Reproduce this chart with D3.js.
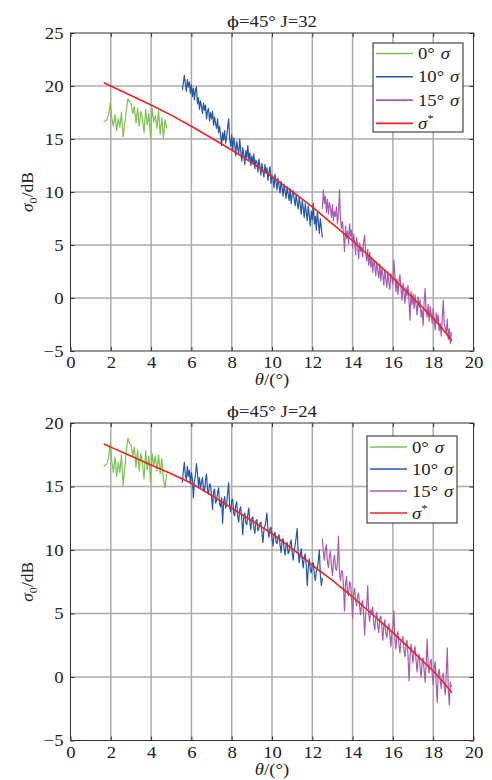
<!DOCTYPE html>
<html>
<head>
<meta charset="utf-8">
<script src="https://cdn.jsdelivr.net/npm/d3@7"></script>
<style>
  body { margin: 0; background: #fff; }
  svg { display: block; }
  text { font-family: "Liberation Serif", "Times New Roman", serif; fill: #222; }
  .tick text { font-size: 16px; }
  .phi { font-family: "DejaVu Serif", serif; }
</style>
</head>
<body>
<svg id="chart" width="492" height="780"></svg>
<script>
// ---- data ----
const xTicks = [0, 2, 4, 6, 8, 10, 12, 14, 16, 18, 20];
const yTicks32 = [-5, 0, 5, 10, 15, 20, 25];
const yTicks24 = [-5, 0, 5, 10, 15, 20];
const titleJ = ["J=32", "J=24"];
const legendNums = ["0°", "10°", "15°", ""];

// theta sampling of the measured curves
const theta0Start = 1.65, theta0Step = 0.08;
const theta10Start = 5.55, theta15Start = 12.5, thetaStep = 0.05;

const sigma0J32 = [16.6,16.7,16.8,17.3,18.4,17.0,16.2,17.3,15.8,16.9,16.1,17.5,15.2,16.4,17.8,18.8,18.5,18.3,17.4,18.1,
  16.5,17.9,16.2,17.6,16.9,15.6,17.8,16.3,17.4,15.2,17.9,16.6,17.2,16.0,17.7,15.4,17.0,15.1,16.8,16.0];
const sigma10J32 = [
  19.6,20.3,21.0,20.2,19.5,20.6,19.9,20.4,19.3,20.1,
  19.0,19.8,18.7,19.6,19.9,18.3,18.9,17.8,18.6,18.1,
  17.4,18.4,17.7,18.2,16.9,17.6,17.9,16.7,17.5,16.9,
  17.6,16.3,17.1,16.4,16.0,16.9,15.6,16.2,15.3,14.4,
  15.6,14.9,15.8,14.6,15.2,16.1,16.9,15.0,14.3,15.4,
  13.9,15.1,14.5,13.4,14.8,14.1,13.6,15.0,13.8,12.9,
  14.2,13.5,12.6,13.9,13.2,14.4,13.0,13.7,12.5,13.4,
  12.7,13.6,12.2,13.0,12.8,11.9,13.1,12.4,11.6,12.7,
  12.0,11.4,12.6,11.8,12.3,11.1,11.9,12.4,10.8,11.6,
  11.2,10.4,11.7,10.9,10.2,11.3,10.6,9.9,11.0,10.4,
  9.6,10.7,10.1,9.4,10.5,9.8,9.2,10.3,8.9,9.7,
  10.1,9.3,8.7,9.8,9.0,8.4,9.5,8.8,7.9,9.2,
  8.5,7.6,8.9,8.1,7.3,8.7,7.8,6.8,8.2,7.4,
  8.9,7.0,7.7,6.4,8.1,7.2,6.1,7.5,6.6,5.7];
const sigma15J32 = [
  8.4,10.2,8.9,9.6,8.1,9.3,7.9,9.0,8.5,7.6,
  8.8,7.3,8.2,7.7,8.6,7.0,8.0,10.2,7.4,6.6,
  7.2,5.9,4.4,6.8,5.6,6.3,5.1,7.0,5.8,6.4,
  4.7,6.0,5.3,4.1,5.7,4.9,3.7,5.2,4.4,4.8,
  3.9,5.4,5.9,4.2,3.5,4.6,3.1,4.3,2.9,3.8,
  2.4,3.6,3.0,2.1,3.4,2.6,1.9,3.2,1.6,2.8,
  2.2,1.2,2.7,1.8,1.0,2.5,1.5,0.8,2.3,1.9,
  1.3,3.6,2.1,0.6,1.8,0.3,1.5,2.2,0.9,-0.2,
  1.4,0.5,-0.5,1.0,0.2,1.2,-0.3,-2.1,0.6,-0.6,
  0.4,-1.0,0.3,-0.7,-1.6,0.1,-0.9,-0.2,-1.8,-1.1,
  -2.6,-0.4,0.9,-1.3,-1.8,-0.6,-2.2,-0.8,-1.5,-2.4,
  -1.0,-2.1,-3.0,-1.4,-2.2,-1.6,-3.1,-2.4,-3.6,-1.9,
  -0.2,-2.5,-2.8,-3.3,-2.0,-3.9,-2.9,-4.3,-3.2];

const sigma0J24 = [16.6,16.7,16.8,17.3,18.4,17.0,16.1,17.3,15.8,16.9,16.1,17.5,15.1,16.4,17.8,18.8,18.4,18.3,17.4,18.1,
  16.5,17.9,16.2,17.6,16.9,15.6,17.8,16.3,17.4,15.3,17.6,16.6,17.4,16.2,17.5,16.0,17.2,15.6,14.9,16.0];
const sigma10J24 = [
  15.3,16.2,16.9,15.9,15.5,16.6,15.8,16.3,15.2,16.1,
  15.6,14.1,15.4,15.9,16.8,16.1,15.0,15.7,14.9,15.3,
  15.7,14.8,14.6,15.5,16.0,14.7,14.4,15.2,15.1,14.2,
  13.2,14.6,14.8,13.7,13.9,14.5,14.9,13.6,13.4,14.1,
  12.1,13.8,14.2,13.3,13.6,14.5,15.3,13.4,13.0,13.9,
  14.0,12.9,12.7,13.5,13.8,12.6,12.2,13.2,13.4,12.4,
  11.2,12.6,12.9,12.1,12.0,12.8,13.3,12.2,11.6,12.5,
  12.6,11.7,11.3,12.3,12.4,11.5,11.7,12.1,12.2,11.4,
  10.6,11.6,11.9,12.3,12.9,11.5,11.0,11.7,11.8,10.9,
  10.3,11.2,11.4,10.6,10.5,11.0,11.2,10.4,9.8,10.7,
  10.9,10.1,9.6,10.4,10.6,9.7,9.9,10.5,10.8,9.8,
  9.2,10.0,10.4,11.0,11.7,9.8,9.0,9.6,10.1,9.3,
  8.6,9.4,9.7,8.8,7.2,8.6,9.3,8.4,8.2,8.9,
  9.0,8.1,7.6,8.3,8.5,9.2,10.0,8.0,7.2,7.8];
const sigma15J24 = [
  10.9,9.8,9.2,10.1,10.4,9.0,8.6,9.5,9.9,8.7,
  8.0,9.1,9.6,8.6,8.4,9.0,11.1,8.1,7.6,8.4,
  8.3,7.1,5.2,7.3,7.9,6.7,6.4,7.5,7.4,6.2,
  4.6,6.5,7.0,6.1,5.6,6.4,6.6,5.5,4.9,5.8,
  6.0,4.8,3.3,5.0,5.6,7.2,4.9,4.4,5.3,5.0,
  5.5,4.2,3.7,4.7,5.1,4.0,3.5,4.6,4.8,3.9,
  2.9,4.1,4.5,3.4,3.1,3.9,4.2,3.3,2.4,3.5,
  3.9,5.2,3.0,2.2,3.3,3.6,2.6,1.9,2.8,3.0,
  3.2,2.1,1.6,2.5,2.9,1.7,-0.3,1.5,2.6,1.9,
  1.1,2.0,2.4,1.3,0.4,1.5,1.8,0.7,0.0,1.2,
  1.5,0.5,-0.4,1.0,3.0,0.9,0.3,1.2,1.4,0.2,
  -0.6,0.7,1.2,-0.5,-2.0,0.2,0.6,-0.3,-0.9,0.1,
  0.3,-0.8,-1.4,0.4,2.3,-1.0,-2.2,-0.4,-0.8];

const starTheta = [1.65,2,3,4,5,6,7,8,9,10,11,12,13,14,15,16,17,18,18.5,18.93];
const sigmaStarJ32 = [20.3,20.0,19.1,18.2,17.25,16.2,15.1,13.96,12.75,11.45,10.05,8.6,7.0,5.4,3.65,1.9,0.0,-1.9,-3.0,-4.05];
const sigmaStarJ24 = [18.35,18.1,17.4,16.7,16.0,15.26,14.3,13.3,12.3,11.3,10.1,8.8,7.6,6.3,4.9,3.5,2.0,0.47,-0.4,-1.24];

const colors = ["#7cc24f", "#2457a8", "#a65cb3", "#f22020"];

// ---- layout ----
const svg = d3.select("#chart");
const stretch = "scale(1.17,1)";

let panels = [
  {j: titleJ[0], top: 33, bottom: 351, yDomain: [-5, 25], yTicks: yTicks32,
   s0: sigma0J32, s10: sigma10J32, s15: sigma15J32, star: sigmaStarJ32,
   legend: {x: 373, y: 43, w: 90, h: 89, first: 10.5, row: 23.3}},
  {j: titleJ[1], top: 423, bottom: 740.5, yDomain: [-5, 20], yTicks: yTicks24,
   s0: sigma0J24, s10: sigma10J24, s15: sigma15J24, star: sigmaStarJ24,
   legend: {x: 367, y: 436, w: 90, h: 87, first: 11, row: 22}}
];

let toPoints = function(start, step, vals) {
  return vals.map(function(v, i) { return [start + i * step, v]; });
};

let drawPanel = function(p) {
  let x = d3.scaleLinear().domain([0, 20]).range([70.5, 473.5]);
  let y = d3.scaleLinear().domain(p.yDomain).range([p.bottom, p.top]);
  let g = svg.append("g");

  // grid
  g.selectAll("line.vg").data(xTicks.slice(1, -1)).enter().append("line")
    .attr("x1", d => x(d)).attr("x2", d => x(d))
    .attr("y1", p.top).attr("y2", p.bottom)
    .attr("stroke", "#ababab").attr("stroke-width", 1.5);
  g.selectAll("line.hg").data(p.yTicks.slice(1, -1)).enter().append("line")
    .attr("x1", x(0)).attr("x2", x(20))
    .attr("y1", d => y(d)).attr("y2", d => y(d))
    .attr("stroke", "#ababab").attr("stroke-width", 1.5);

  // curves
  let line = d3.line().x(d => x(d[0])).y(d => y(d[1]));
  let series = [
    toPoints(theta0Start, theta0Step, p.s0),
    toPoints(theta10Start, thetaStep, p.s10),
    toPoints(theta15Start, thetaStep, p.s15),
    starTheta.map((t, i) => [t, p.star[i]])
  ];
  g.selectAll("path.series").data(series).enter().append("path")
    .attr("fill", "none")
    .attr("stroke", (d, i) => colors[i])
    .attr("stroke-width", (d, i) => i === 3 ? 1.6 : 1.2)
    .attr("stroke-linejoin", "round")
    .attr("d", line);

  // axes, ticks inward
  let ax = g.append("g").attr("transform", "translate(0," + p.bottom + ")")
    .call(d3.axisBottom(x).tickValues(xTicks).tickSize(-4).tickPadding(6));
  let ay = g.append("g").attr("transform", "translate(" + x(0) + ",0)")
    .call(d3.axisLeft(y).tickValues(p.yTicks).tickSize(-4).tickPadding(6));
  g.append("g").attr("transform", "translate(0," + p.top + ")")
    .call(d3.axisTop(x).tickValues(xTicks).tickSize(-4).tickFormat(""));
  g.append("g").attr("transform", "translate(" + x(20) + ",0)")
    .call(d3.axisRight(y).tickValues(p.yTicks).tickSize(-4).tickFormat(""));
  g.selectAll(".domain").remove();
  g.selectAll(".tick line").attr("stroke", "#333");
  ax.selectAll(".tick text").attr("transform", stretch);
  ay.selectAll(".tick text").attr("transform", stretch);

  g.append("rect")
    .attr("x", x(0)).attr("y", p.top)
    .attr("width", x(20) - x(0)).attr("height", p.bottom - p.top)
    .attr("fill", "none").attr("stroke", "#333").attr("stroke-width", 1);

  // title
  let tt = g.append("text")
    .attr("transform", "translate(" + (x(0) + x(20)) / 2 + "," + (p.top - 6) + ") " + stretch)
    .attr("text-anchor", "middle").attr("font-size", 16);
  tt.append("tspan").attr("class", "phi").attr("font-size", 15).text("ϕ");
  tt.append("tspan").text("=45° " + p.j);

  // axis labels
  let xl = g.append("text")
    .attr("transform", "translate(" + (x(0) + x(20)) / 2 + "," + (p.bottom + 34) + ") " + stretch)
    .attr("text-anchor", "middle").attr("font-size", 16);
  xl.append("tspan").attr("font-style", "italic").text("θ");
  xl.append("tspan").text("/(°)");

  let yl = g.append("text")
    .attr("transform", "translate(33," + (p.top + p.bottom) / 2 + ") rotate(-90) scale(1.1,1)")
    .attr("text-anchor", "middle").attr("font-size", 16);
  yl.append("tspan").attr("font-style", "italic").text("σ");
  yl.append("tspan").attr("font-size", 11).attr("dy", 4).text("0");
  yl.append("tspan").attr("dy", -4).text("/dB");

  // legend
  let L = p.legend;
  let lg = g.append("g").attr("transform", "translate(" + L.x + "," + L.y + ")");
  lg.append("rect").attr("width", L.w).attr("height", L.h)
    .attr("fill", "#fff").attr("stroke", "#222").attr("stroke-width", 1);
  legendNums.forEach(function(num, i) {
    let cy = L.first + i * L.row;
    lg.append("line")
      .attr("x1", 3).attr("x2", 40).attr("y1", cy).attr("y2", cy)
      .attr("stroke", colors[i]).attr("stroke-width", 1.6);
    let t = lg.append("text")
      .attr("transform", "translate(45," + (cy + 5.5) + ") " + stretch)
      .attr("font-size", 16);
    if (num !== "") {
      t.append("tspan").text(num);
      t.append("tspan").attr("dx", 5).attr("font-style", "italic").text("σ");
    } else {
      t.append("tspan").attr("font-style", "italic").text("σ");
      t.append("tspan").attr("font-size", 11).attr("dy", -7).text("*");
    }
  });
};

panels.forEach(drawPanel);
</script>
</body>
</html>
